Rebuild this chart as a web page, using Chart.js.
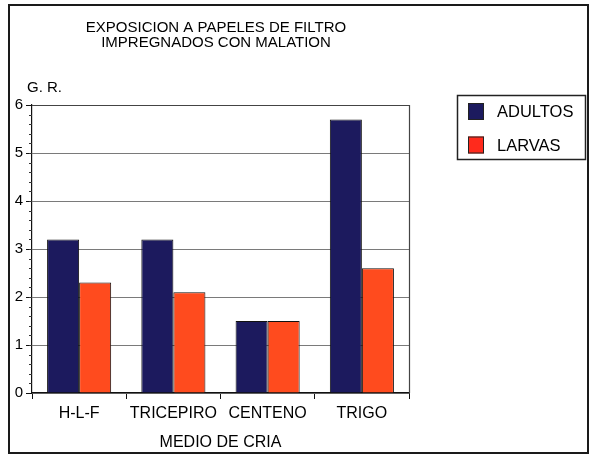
<!DOCTYPE html>
<html>
<head>
<meta charset="utf-8">
<script src="https://cdn.jsdelivr.net/npm/chart.js@4"></script>
<style>
  html, body { margin: 0; padding: 0; background: #fff; }
  #wrap { width: 589px; height: 458px; }
</style>
</head>
<body>
<div id="wrap"><canvas id="grafico" width="589" height="458"></canvas></div>
<script>
// medios de cria y valores de G. R.
var medios = ['H-L-F', 'TRICEPIRO', 'CENTENO', 'TRIGO'];
var adultos = [3.2, 3.2, 1.5, 5.7];
var larvas = [2.3, 2.1, 1.5, 2.6];
var ticksY = [0, 1, 2, 3, 4, 5, 6];
var titulo = ['EXPOSICION A PAPELES DE FILTRO', 'IMPREGNADOS CON MALATION'];

var fuente = '"Liberation Sans", Arial, sans-serif';

// marco, titulo, "G. R.", subdivisiones del eje y leyenda
var extras = {
    id: 'extras',
    beforeDraw: function(chart) {
        var c = chart.ctx;
        c.save();
        c.fillStyle = '#fff';
        c.fillRect(0, 0, chart.width, chart.height);
        c.restore();
    },
    afterDraw: function(chart) {
        var c = chart.ctx;
        var a = chart.chartArea;
        var y = chart.scales.y;
        c.save();
        // marco exterior
        c.strokeStyle = '#1a1a1a';
        c.lineWidth = 2;
        c.strokeRect(9, 5, 579, 448);

        // borde superior y derecho del area
        c.strokeStyle = '#444';
        c.lineWidth = 1.2;
        c.beginPath();
        c.moveTo(a.left, a.top + 0.5);
        c.lineTo(a.right + 0.5, a.top + 0.5);
        c.lineTo(a.right + 0.5, a.bottom);
        c.stroke();

        // titulo
        c.fillStyle = '#000';
        c.font = '15px ' + fuente;
        c.textAlign = 'center';
        c.textBaseline = 'middle';
        c.fillText(titulo[0], 216, 28);
        c.fillText(titulo[1], 216, 43);

        // titulo del eje y
        c.textAlign = 'left';
        c.font = '15px ' + fuente;
        c.fillText('G. R.', 27, 88);

        // subdivisiones del eje y
        c.strokeStyle = '#333';
        c.lineWidth = 1;
        for (var v = 0.2; v < 6; v += 0.2) {
            var py = Math.round(y.getPixelForValue(v)) + 0.5;
            c.beginPath();
            c.moveTo(a.left - 3, py);
            c.lineTo(a.left, py);
            c.stroke();
        }

        // leyenda
        c.strokeStyle = '#222';
        c.lineWidth = 1.5;
        c.strokeRect(457.5, 95.5, 128, 64);
        c.font = '16.5px ' + fuente;
        c.textBaseline = 'middle';
        var items = [
            { txt: 'ADULTOS', col: '#1c1a5e', y: 111.5 },
            { txt: 'LARVAS', col: '#ff2a1c', y: 145 }
        ];
        items.forEach(function(it) {
            c.fillStyle = it.col;
            c.fillRect(468, it.y - 8.5, 16, 17);
            c.strokeStyle = '#222';
            c.lineWidth = 1;
            c.strokeRect(468.5, it.y - 8, 15, 16);
            c.fillStyle = '#000';
            c.fillText(it.txt, 497, it.y + 1);
        });
        c.restore();
    }
};

var data = {
    labels: medios,
    datasets: [{
        label: 'ADULTOS',
        data: adultos,
        backgroundColor: '#1c1a5e',
        borderColor: '#111',
        borderWidth: 1,
        barPercentage: 1.0,
        categoryPercentage: 0.68
    }, {
        label: 'LARVAS',
        data: larvas,
        backgroundColor: '#ff4b1e',
        borderColor: '#111',
        borderWidth: 1,
        barPercentage: 1.0,
        categoryPercentage: 0.68
    }]
};

new Chart(document.getElementById('grafico').getContext('2d'), {
    type: 'bar',
    data: data,
    plugins: [extras],
    options: {
        responsive: false,
        animation: false,
        layout: { padding: { left: 8, right: 180, top: 105, bottom: 6 } },
        plugins: {
            legend: { display: false },
            title: { display: false },
            tooltip: { enabled: false }
        },
        scales: {
            x: {
                afterFit: function(s) { s.height = 59; },
                border: { color: '#111', width: 1.2 },
                grid: { offset: true, drawOnChartArea: false, drawTicks: true, tickLength: 6, color: '#111' },
                ticks: { color: '#000', font: { family: fuente, size: 16 }, padding: 5 },
                title: { display: true, text: 'MEDIO DE CRIA', color: '#000', font: { family: fuente, size: 16 }, padding: { top: 6, bottom: 0 } }
            },
            y: {
                min: 0,
                max: 6,
                afterFit: function(s) { s.width = 24; },
                afterBuildTicks: function(s) { s.ticks = ticksY.map(function(v) { return { value: v }; }); },
                border: { color: '#111', width: 1.2 },
                grid: { color: '#7a7a7a', lineWidth: 1, drawTicks: true, tickLength: 6, tickColor: '#111' },
                ticks: { color: '#000', font: { family: fuente, size: 15 }, padding: 3 }
            }
        }
    }
});
</script>
</body>
</html>
